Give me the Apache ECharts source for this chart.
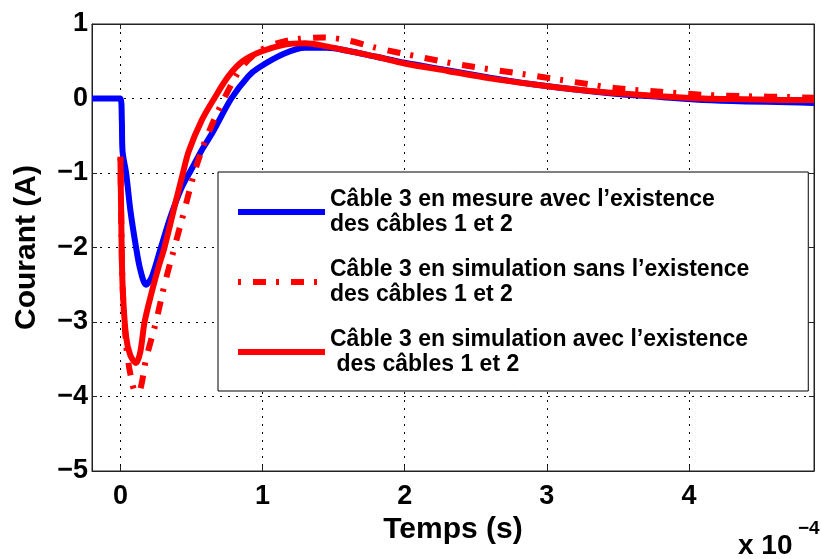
<!DOCTYPE html>
<html>
<head>
<meta charset="utf-8">
<script src="https://cdn.jsdelivr.net/npm/echarts@6/dist/echarts.min.js"></script>
<style>
  html, body { margin: 0; padding: 0; background: #fff; }
  #chart { width: 822px; height: 559px; }
</style>
</head>
<body>
<div id="chart"></div>
<script>
// time in units of 1e-4 s, current in A
var nomMesure = "Câble 3 en mesure avec l’existence\ndes câbles 1 et 2";
var nomSans = "Câble 3 en simulation sans l’existence\ndes câbles 1 et 2";
var nomAvec = "Câble 3 en simulation avec l’existence\n des câbles 1 et 2";

var tMesure = [-0.2, 0.0, 0.01, 0.015, 0.04, 0.07, 0.11, 0.14, 0.18, 0.22, 0.285, 0.35, 0.43, 0.5, 0.57, 0.65, 0.78, 0.9, 0.97, 1.15, 1.3, 1.45, 1.6, 1.8, 2.0, 2.3, 2.6, 2.9, 3.2, 3.5, 3.8, 4.1, 4.4, 4.7, 4.88];
var iMesure = [0, 0, -0.3, -0.71, -1.0, -1.5, -2.0, -2.3, -2.5, -2.4, -2.0, -1.6, -1.2, -0.95, -0.7, -0.45, 0.0, 0.3, 0.41, 0.6, 0.68, 0.68, 0.64, 0.56, 0.48, 0.38, 0.28, 0.19, 0.12, 0.06, 0.02, -0.02, -0.04, -0.05, -0.06];

var tSans = [0.0, 0.005, 0.015, 0.04, 0.07, 0.11, 0.14, 0.18, 0.25, 0.31, 0.38, 0.45, 0.52, 0.6, 0.73, 0.85, 0.97, 1.1, 1.25, 1.43, 1.6, 1.8, 2.1, 2.4, 2.86, 3.2, 3.48, 3.8, 4.1, 4.4, 4.7, 4.88];
var iSans = [-0.8, -1.5, -2.5, -3.3, -3.7, -3.95, -3.9, -3.5, -3.0, -2.5, -2.0, -1.5, -1.0, -0.55, 0.0, 0.41, 0.63, 0.74, 0.8, 0.82, 0.78, 0.68, 0.56, 0.45, 0.32, 0.22, 0.14, 0.09, 0.05, 0.03, 0.02, 0.01];

var tAvec = [0.0, 0.005, 0.015, 0.04, 0.07, 0.11, 0.14, 0.17, 0.22, 0.27, 0.31, 0.39, 0.44, 0.48, 0.57, 0.66, 0.76, 0.86, 0.99, 1.15, 1.3, 1.45, 1.6, 1.8, 2.0, 2.3, 2.6, 2.9, 3.2, 3.5, 3.8, 4.1, 4.4, 4.7, 4.88];
var iAvec = [-0.78, -1.5, -2.5, -3.2, -3.45, -3.55, -3.4, -3.0, -2.6, -2.25, -2.0, -1.38, -1.0, -0.71, -0.3, 0.0, 0.3, 0.5, 0.63, 0.72, 0.74, 0.7, 0.64, 0.56, 0.47, 0.37, 0.27, 0.19, 0.12, 0.07, 0.03, 0.0, -0.01, -0.02, -0.02];

var yTicks = [-5, -4, -3, -2, -1, 0, 1];

function pairs(t, v) {
  return t.map(function (x, k) { return [x, v[k]]; });
}
function minus(v) {
  return v < 0 ? '\u2212' + (-v) : String(v);
}

var font = 'Liberation Sans, Arial, sans-serif';
var chart = echarts.init(document.getElementById('chart'));

var dotted = { show: true, lineStyle: { color: '#000', width: 1, type: [2, 6] } };
var ticksIn = { show: true, inside: true, length: 5, lineStyle: { color: '#222' } };
var line = { show: true, onZero: false, lineStyle: { color: '#222', width: 1 } };

var option = {
  backgroundColor: '#fff',
  animation: false,
  grid: { left: 92, right: 8, top: 24, bottom: 88, show: true, borderColor: '#222', borderWidth: 1 },
  xAxis: [
    {
      type: 'value', min: -0.2, max: 4.88,
      name: 'Temps (s)', nameLocation: 'middle', nameGap: 40,
      nameTextStyle: { fontFamily: font, fontWeight: 'bold', fontSize: 30, color: '#000' },
      axisLine: line, axisTick: ticksIn, splitLine: dotted,
      axisLabel: { showMinLabel: false, showMaxLabel: false, margin: 12, fontFamily: font, fontWeight: 'bold', fontSize: 27, color: '#000' }
    },
    {
      type: 'value', min: -0.2, max: 4.88, position: 'top',
      axisLine: line, axisTick: ticksIn, splitLine: { show: false }, axisLabel: { show: false }
    }
  ],
  yAxis: [
    {
      type: 'value', min: yTicks[0], max: yTicks[yTicks.length - 1], interval: 1,
      name: 'Courant (A)', nameLocation: 'middle', nameGap: 50,
      nameTextStyle: { fontFamily: font, fontWeight: 'bold', fontSize: 30, color: '#000' },
      axisLine: line, axisTick: ticksIn, splitLine: dotted,
      axisLabel: { margin: 4, formatter: minus, fontFamily: font, fontWeight: 'bold', fontSize: 27, color: '#000' }
    },
    {
      type: 'value', min: yTicks[0], max: yTicks[yTicks.length - 1], interval: 1, position: 'right',
      axisLine: line, axisTick: ticksIn, splitLine: { show: false }, axisLabel: { show: false }
    }
  ],
  legend: {
    orient: 'vertical', left: 218, top: 172,
    backgroundColor: '#fff', borderColor: '#000', borderWidth: 1,
    padding: [15, 59, 14, 17], itemGap: 20, itemWidth: 87, itemHeight: 10,
    lineStyle: { width: 6 },
    itemStyle: { opacity: 0 },
    textStyle: { fontFamily: font, fontWeight: 'bold', fontSize: 23, lineHeight: 25, color: '#000' },
    data: [nomMesure, nomSans, nomAvec]
  },
  graphic: [
    { type: 'text', left: 738, top: 532, style: { text: 'x 10', font: 'bold 28px ' + font, fill: '#000' } },
    { type: 'text', left: 798, top: 519, style: { text: '\u22124', font: 'bold 19px ' + font, fill: '#000' } }
  ],
  series: [
    {
      name: nomMesure, type: 'line', data: pairs(tMesure, iMesure), symbol: 'none', smooth: 0.3,
      lineStyle: { color: '#0000ff', width: 6 }, itemStyle: { color: '#0000ff' }
    },
    {
      name: nomSans, type: 'line', data: pairs(tSans, iSans), symbol: 'none', smooth: 0.3,
      lineStyle: { color: '#ff0000', width: 6, type: [3, 12, 13, 10], cap: 'butt' }, itemStyle: { color: '#ff0000' }
    },
    {
      name: nomAvec, type: 'line', data: pairs(tAvec, iAvec), symbol: 'none', smooth: 0.3,
      lineStyle: { color: '#ff0000', width: 6 }, itemStyle: { color: '#ff0000' }
    }
  ]
};

chart.setOption(option);
</script>
</body>
</html>
